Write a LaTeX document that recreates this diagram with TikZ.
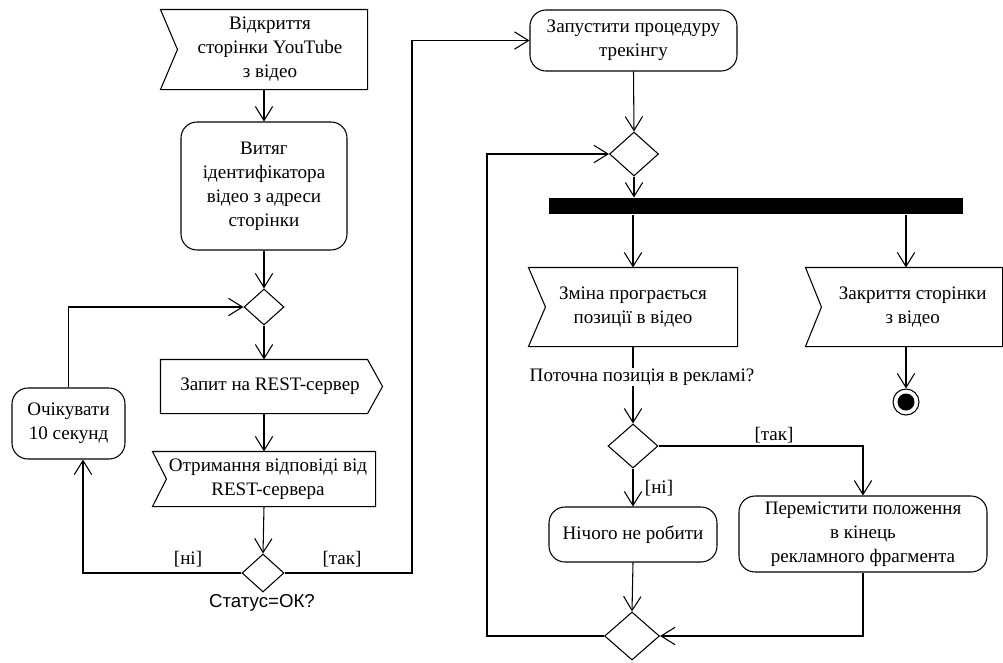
\documentclass[tikz,border=0pt]{standalone}
\usepackage{fontspec}
\setmainfont{Liberation Serif}
\newfontfamily\labelsans{Liberation Sans}
\usetikzlibrary{arrows.meta,shapes.geometric,calc}
\newlength\pxu
\setlength\pxu{0.75pt}
% push a centred line to the right by half of the given space
\newcommand\pushr[1]{\hspace*{#1}}
\begin{document}
\begin{tikzpicture}[x=0.75pt,y=-0.75pt,
  line width=0.8pt,
  every node/.style={font=\fontsize{14.3pt}{18pt}\selectfont, inner sep=0pt, align=center},
  arr/.style={-{Straight Barb[length=10.5pt,width=13pt]}},
  action/.style={draw, rounded corners=12pt, minimum width=#1},
  frame/.style={minimum width=#1},
  gate/.style={draw, diamond, minimum width=#1},
  guard/.style={font=\fontsize{14.3pt}{16pt}\selectfont}]
\useasboundingbox (0,0) rectangle (1003,662);

% ---- left column: page start and polling loop ----
\node[frame=206\pxu, minimum height=79\pxu] (open) at (264,49.5)
  {\pushr{9pt}Відкриття\\\pushr{9pt}сторінки YouTube\\\pushr{9pt}з відео};
\node[action=166\pxu, minimum height=128\pxu] (extract) at (264,186) {Витяг\\ідентифікатора\\відео з адреси\\сторінки};
\node[gate=40\pxu, minimum height=36\pxu] (d1) at (264,307) {};
\node[frame=206\pxu, minimum height=53\pxu] (req) at (264,386.5) {\pushr{9pt}Запит на REST-сервер};
\node[frame=222\pxu, minimum height=54\pxu] (resp) at (264,479)
  {\pushr{6pt}Отримання відповіді від\\\pushr{6pt}REST-сервера};
\node[gate=42\pxu, minimum height=38\pxu] (d2) at (263,573) {};
\node[action=113\pxu, minimum height=71\pxu] (wait) at (68.5,423.5) {Очікувати\\10 секунд};
\node[font=\labelsans\fontsize{14pt}{16pt}\selectfont] (status) at (262,603) {Статус=ОК?};

% signal outlines (receive: notch on the left, send: point on the right)
\draw (open.north west) -- (open.north east) -- (open.south east) -- (open.south west)
      -- ($(open.west)+(17,0)$) -- cycle;
\draw (req.north west) -- (req.north east) -- ($(req.east)+(15,0)$) -- (req.south east)
      -- (req.south west) -- cycle;
\draw (resp.north west) -- (resp.north east) -- (resp.south east) -- (resp.south west)
      -- ($(resp.west)+(14,0)$) -- cycle;

% ---- right column: tracking procedure ----
\node[action=207\pxu, minimum height=61\pxu] (start) at (633.5,40.5) {Запустити процедуру\\трекінгу};
\node[gate=49\pxu, minimum height=44\pxu] (d3) at (634,154) {};
\node[fill=black, minimum width=414\pxu, minimum height=16\pxu] (bar) at (756,206) {};
\node[frame=208\pxu, minimum height=78\pxu] (change) at (633,307) {Зміна програється\\позиції в відео};
\node[frame=196\pxu, minimum height=78\pxu] (close) at (904,307)
  {\pushr{13pt}Закриття сторінки\\\pushr{13pt}з відео};
\node[circle, draw, minimum size=26\pxu] (final) at (906,402) {};
\fill (final.center) circle[radius=8.5];
\node (q) at (642,377) {Поточна позиція в рекламі?};
\node[gate=50\pxu, minimum height=44\pxu] (d4) at (633,446) {};
\node[action=168\pxu, minimum height=55\pxu] (nothing) at (633,534.5) {Нічого не робити};
\node[action=248\pxu, minimum height=76\pxu] (move) at (863,534) {Перемістити положення\\в кінець\\рекламного фрагмента};
\node[gate=55\pxu, minimum height=48\pxu] (d5) at (632,636) {};

\draw (change.north west) -- (change.north east) -- (change.south east) -- (change.south west)
      -- ($(change.west)+(17,0)$) -- cycle;
\draw (close.north west) -- (close.north east) -- (close.south east) -- (close.south west)
      -- ($(close.west)+(16,0)$) -- cycle;

% helper bends
\coordinate (bendR) at (412,300);
\coordinate (bendL) at (487,400);

% ---- connectors ----
\draw[arr] (open.south) -- (extract.north);
\draw[arr] (extract.south) -- (d1.north);
\draw[arr] (d1.south) -- (req.north);
\draw[arr] (req.south) -- (resp.north);
\draw[arr] (resp.south) -- (d2.north);
\draw[arr] (d2.west) -| ($(wait.south)+(14.5,0)$);
\draw[arr] (wait.north) |- (d1.west);
\draw[arr] (d2.east) -| (bendR) |- (start.west);
\node[guard] (no1) at (188,559) {[ні]};
\node[guard] (yes1) at (342,559) {[так]};

\draw[arr] (start.south) -- (d3.north);
\draw[arr] (d3.south) -- (d3.south |- bar.north);
\draw[arr] (change.north |- bar.south) -- (change.north);
\draw[arr] (final.north |- bar.south) -- (final.north |- close.north);
\draw[arr] (final.north |- close.south) -- (final.north);
\draw (change.south) -- (change.south |- q.north);
\draw[arr] (d4.north |- q.south) -- (d4.north);
\draw[arr] (d4.east) -| (move.north);
\draw[arr] (d4.south) -- (nothing.north);
\node[guard] (yes2) at (774,435) {[так]};
\node[guard] (no2) at (659,488) {[ні]};
\draw[arr] (nothing.south) -- (d5.north);
\draw[arr] (move.south) |- (d5.east);
\draw[arr] (d5.west) -| (bendL) |- (d3.west);
\end{tikzpicture}
\end{document}
